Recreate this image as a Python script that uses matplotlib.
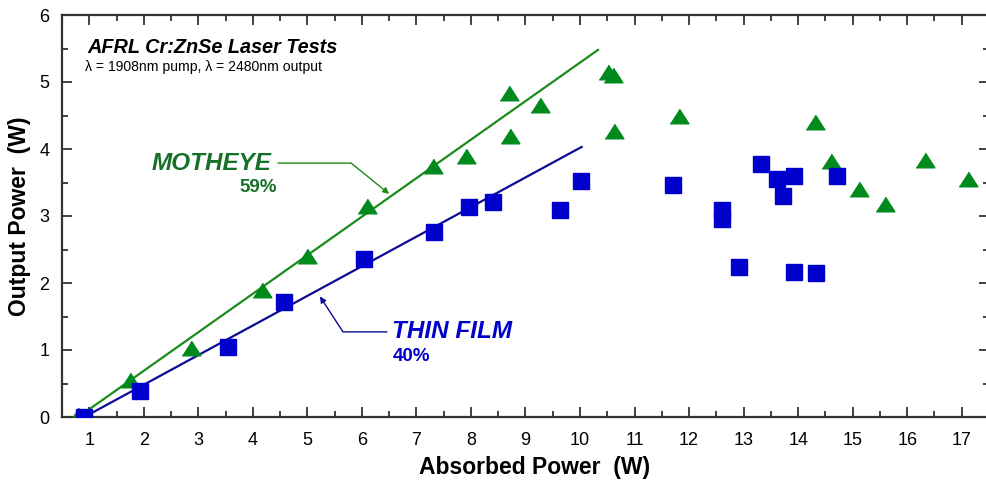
"""AFRL Cr:ZnSe laser tests - output vs absorbed power."""

import matplotlib

matplotlib.use("Agg")

import matplotlib.pyplot as plt
import numpy as np

# MOTHEYE (green triangles)
motheye_x = [0.80, 1.74, 2.86, 4.17, 4.99, 6.10, 7.30, 7.90, 8.70, 8.72, 9.27,
             10.51, 10.60, 10.62, 11.81, 14.30, 14.61, 15.12, 15.59, 16.32, 17.12]
motheye_y = [0.03, 0.55, 1.03, 1.89, 2.41, 3.15, 3.74, 3.90, 4.83, 4.19, 4.65,
             5.15, 5.11, 4.27, 4.49, 4.41, 3.82, 3.41, 3.18, 3.84, 3.55]

# THIN FILM (blue squares)
thin_x = [0.91, 1.93, 3.55, 4.57, 6.03, 7.32, 7.97, 8.41, 9.63, 10.02, 11.71,
          12.60, 12.60, 12.91, 13.31, 13.62, 13.73, 13.93, 13.93, 14.32, 14.72]
thin_y = [0.00, 0.39, 1.05, 1.72, 2.36, 2.76, 3.14, 3.21, 3.09, 3.52, 3.46,
          3.09, 2.95, 2.24, 3.78, 3.55, 3.30, 3.60, 2.17, 2.15, 3.60]

# linear fits (slope, threshold, x range)
motheye_fit = (0.575, 0.80, [0.75, 10.33])
thin_fit = (0.442, 0.91, [0.91, 10.03])

x_ticks = list(range(1, 18))
y_ticks = list(range(0, 7))

GREEN = "#008a1c"
GREEN_LINE = "#1a8c1a"
GREEN_TEXT = "#167028"
BLUE = "#0000cc"
BLUE_LINE = "#0a0a96"

plt.rcParams["font.family"] = ["Liberation Sans", "DejaVu Sans"]

fig = plt.figure(figsize=(9.87, 4.80), dpi=100)
ax = fig.add_axes([62 / 987, 63 / 480, 927 / 987, 402 / 480])

tri = [(-1, -0.78), (1, -0.78), (0, 0.78)]

for (slope, x0, xr), col in [(motheye_fit, GREEN_LINE), (thin_fit, BLUE_LINE)]:
    xr = np.array(xr)
    ax.plot(xr, slope * (xr - x0), color=col, lw=1.6, zorder=2)

ax.plot(motheye_x, motheye_y, linestyle="none", marker=tri, ms=13.5,
        color=GREEN, mec=GREEN, zorder=3)
ax.plot(thin_x, thin_y, linestyle="none", marker="s", ms=11.5,
        color=BLUE, mec=BLUE, zorder=4)

ax.set_xlim(0.53, 17.40)
ax.set_ylim(0, 6)
ax.set_xticks(x_ticks)
ax.set_yticks(y_ticks)
ax.set_xticks(np.arange(0.5, 17.6, 0.5), minor=True)
ax.set_yticks(np.arange(0, 6.01, 0.5), minor=True)
ax.tick_params(which="both", direction="in", top=True, right=True,
               color="#333333", width=1.3, labelsize=13)
ax.tick_params(which="major", length=7)
ax.tick_params(which="minor", length=4)
ax.tick_params(axis="x", pad=11)
ax.tick_params(axis="y", pad=9)
for sp in ax.spines.values():
    sp.set_linewidth(1.6)
    sp.set_color("#333333")

ax.set_xlabel("Absorbed Power  (W)", fontsize=16.5, fontweight="bold")
ax.set_ylabel("Output Power  (W)", fontsize=16.5, fontweight="bold")
ax.xaxis.set_label_coords(0.51, -0.096)
ax.yaxis.set_label_coords(-0.0334, 0.5)

ax.text(0.027, 0.918, "AFRL Cr:ZnSe Laser Tests", transform=ax.transAxes,
        fontsize=14.3, fontweight="bold", style="italic", va="center")
ax.text(0.025, 0.871, "\u03bb = 1908nm pump, \u03bb = 2480nm output",
        transform=ax.transAxes, fontsize=10.1, va="center")

# series labels with bent arrows
ax.text(4.35, 3.79, "MOTHEYE", color=GREEN_TEXT, fontsize=17.5, fontweight="bold",
        style="italic", ha="right", va="center")
ax.text(4.44, 3.43, "59%", color=GREEN_TEXT, fontsize=13.5, fontweight="bold",
        ha="right", va="center")
ax.annotate("", xy=(6.50, 3.33), xytext=(4.46, 3.79),
            arrowprops=dict(arrowstyle="-|>", color=GREEN_LINE, lw=1.0,
                            mutation_scale=9, shrinkA=0, shrinkB=0,
                            connectionstyle="angle,angleA=0,angleB=-39,rad=0"))

ax.text(6.56, 1.27, "THIN FILM", color=BLUE, fontsize=17.5, fontweight="bold",
        style="italic", ha="left", va="center")
ax.text(6.56, 0.91, "40%", color=BLUE, fontsize=13.5, fontweight="bold",
        ha="left", va="center")
ax.annotate("", xy=(5.23, 1.80), xytext=(6.46, 1.27),
            arrowprops=dict(arrowstyle="-|>", color=BLUE_LINE, lw=1.0,
                            mutation_scale=9, shrinkA=0, shrinkB=0,
                            connectionstyle="angle,angleA=0,angleB=123,rad=0"))

fig.savefig("out.png", dpi=100)
plt.close(fig)
